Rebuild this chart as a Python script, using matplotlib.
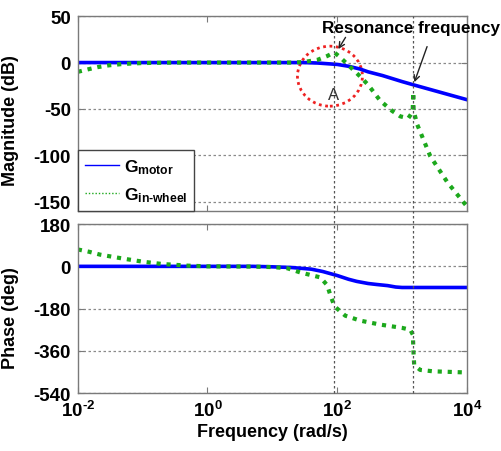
import numpy as np
import matplotlib
matplotlib.use("Agg")
import matplotlib.pyplot as plt
from matplotlib.patches import Ellipse
from matplotlib.lines import Line2D
import matplotlib.transforms as mtransforms

plt.rcParams['font.family'] = ['Liberation Sans', 'DejaVu Sans']
plt.rcParams['font.weight'] = 'bold'
plt.rcParams['axes.unicode_minus'] = False
plt.rcParams['mathtext.fontset'] = 'custom'
plt.rcParams['mathtext.rm'] = 'Liberation Sans:bold'
plt.rcParams['mathtext.bf'] = 'Liberation Sans:bold'
plt.rcParams['mathtext.it'] = 'Liberation Sans:bold'
plt.rcParams['mathtext.default'] = 'rm'

# --- magnitude data ---
f_mag_motor = [0.01, 1, 30, 50, 100, 150, 226, 300, 500, 1000, 1500, 10000]
mag_motor = [0, 0, 0, -0.5, -2, -4, -7, -10, -14, -20.5, -24, -40]

f_mag_wheel = [0.01, 0.015, 0.02, 0.03, 0.05, 0.1, 0.3, 1, 20, 30, 50, 70, 90, 110, 150,
               226, 300, 460, 700, 940, 1250, 1460, 1490, 1510, 1720, 2730, 5000, 10000]
mag_wheel = [-10, -7, -5, -3, -1.5, -0.5, 0, 0, 0, 0.5, 3, 7, 11, 6, -3,
             -15, -24, -41, -52, -58, -60, -53, -32, -52, -67, -101, -129, -155]

# --- phase data ---
f_ph_motor = [0.01, 5, 10, 20, 40, 60, 100, 150, 200, 300, 400, 600, 800, 1000, 10000]
ph_motor = [0, 0, -2, -5, -12, -22, -39, -55, -64, -73, -77, -82, -88, -90, -90]

f_ph_wheel = [0.01, 0.015, 0.022, 0.05, 0.1, 0.2, 0.5, 1, 5, 10, 17, 27, 55, 70, 78, 88, 96,
              133, 226, 460, 1000, 1340, 1470, 1500, 1540, 1900, 3000, 10000]
ph_wheel = [72, 62, 50, 33, 20, 10, 3, 0, -1, -3, -8, -26, -47, -80, -120, -160, -176,
            -210, -231, -248, -262, -270, -291, -360, -420, -441, -447, -452]

mag_ticks = [-150, -100, -50, 0, 50]
ph_ticks = [-540, -360, -180, 0, 180]
x_ticks = [1e-2, 1e0, 1e2, 1e4]
x_ticklabels = [r'$10^{\text{-}2}$', r'$10^{0}$', r'$10^{2}$', r'$10^{4}$']
marker_freqs = [88, 1500]

blue = '#0000ff'
green = '#1ca81c'
gray = '#7a7a7a'

fig = plt.figure(figsize=(5.02, 4.52), dpi=100)
ax1 = fig.add_axes([0.155, 0.531, 0.775, 0.431])
ax2 = fig.add_axes([0.155, 0.128, 0.775, 0.374])

ax1.plot(f_mag_motor, mag_motor, color=blue, lw=2.6, label=r'G$_{\mathrm{motor}}$')
ax1.plot(f_mag_wheel, mag_wheel, color=green, lw=3, ls=(0, (1, 1.4)),
         label=r'G$_{\mathrm{in\text{-}wheel}}$')
ax2.plot(f_ph_motor, ph_motor, color=blue, lw=2.6)
ax2.plot(f_ph_wheel, ph_wheel, color=green, lw=3, ls=(0, (1, 1.4)))

for ax in (ax1, ax2):
    ax.set_xscale('log')
    ax.set_xlim(1e-2, 1e4)
    ax.set_xticks(x_ticks)
    ax.minorticks_off()
    ax.yaxis.grid(True, ls=(0, (2, 2)), color='#8a8a8a', lw=0.9)
    ax.tick_params(direction='in', length=4, color=gray, labelsize=13.5, pad=5)
    for s in ax.spines.values():
        s.set_color(gray)
        s.set_linewidth(1.0)
    ax.tick_params(top=True, right=True)

ax1.set_ylim(-160, 50)
ax1.set_yticks(mag_ticks)
ax1.set_xticklabels([])
ax2.set_ylim(-540, 180)
ax2.set_yticks(ph_ticks)
ax2.set_xticklabels(x_ticklabels)

ax1.set_ylabel('Magnitude (dB)', fontsize=13, fontweight='bold')
ax2.set_ylabel('Phase (deg)', fontsize=13, fontweight='bold')
ax1.yaxis.set_label_coords(-0.152, 0.47)
ax2.yaxis.set_label_coords(-0.152, 0.45)
ax2.set_xlabel('Frequency (rad/s)', fontsize=13, fontweight='bold', labelpad=2)

leg = ax1.legend(loc='lower left', bbox_to_anchor=(0.0, 0.0), fontsize=12.5, fancybox=False,
                 framealpha=1, edgecolor='#444444', handlelength=2.0, borderaxespad=0,
                 borderpad=0.4, labelspacing=0.55, handletextpad=0.25)
leg.get_frame().set_linewidth(1.0)
for h in leg.get_lines():
    h.set_linewidth(1.0)

# vertical dashed lines through both plots
trans = mtransforms.blended_transform_factory(ax1.transData, fig.transFigure)
for fx in marker_freqs:
    fig.add_artist(Line2D([fx, fx], [0.128, 0.962], transform=trans,
                          ls=(0, (2, 2)), color='#555555', lw=0.9))

# red dotted circle and label A
ax1.add_patch(Ellipse((0.648, 0.692), 0.167, 0.308, transform=ax1.transAxes,
                      fill=False, ec='#ee2222', lw=2, ls=(0, (1, 1.3))))
ax1.text(88, -34, 'A', ha='center', va='center', fontsize=12, fontweight='normal', color='#333333')

# annotation
fig.text(322 / 502, 1 - 29 / 452, 'Resonance frequency', ha='left', va='center',
         fontsize=12.3, fontweight='bold')
ax1.annotate('', xy=(99, 12), xytext=(347 / 502, 1 - 36 / 452), textcoords='figure fraction',
             arrowprops=dict(arrowstyle='->', color='#222222', lw=1), annotation_clip=False)
ax1.annotate('', xy=(1500, -24), xytext=(428 / 502, 1 - 45 / 452), textcoords='figure fraction',
             arrowprops=dict(arrowstyle='->', color='#222222', lw=1), annotation_clip=False)

fig.savefig('out.png', dpi=100)
